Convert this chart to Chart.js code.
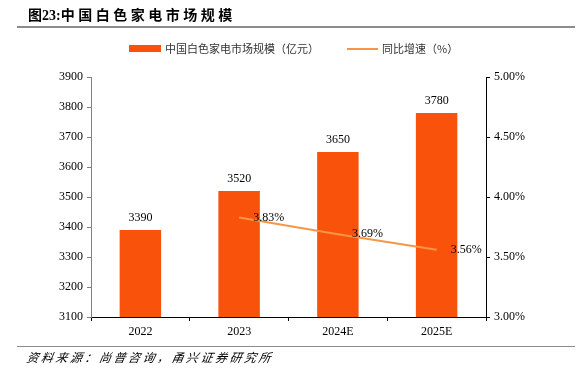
<!DOCTYPE html>
<html>
<head>
<meta charset="utf-8">
<script src="https://cdn.jsdelivr.net/npm/chart.js@4"></script>
<style>
  html, body { margin: 0; padding: 0; background: #fff; }
  #wrap { position: relative; width: 581px; height: 378px; overflow: hidden; }
  #chart { position: absolute; left: 0; top: 0; }
  .title { position: absolute; left: 28px; top: 4px; font: bold 14px "Liberation Serif", "Noto Sans CJK SC"; color: #000; }
  .title span { font-family: "Noto Sans CJK SC"; letter-spacing: 3.5px; }
  .rule { position: absolute; left: 17px; right: 6px; height: 2px; background: #8c8c8c; }
  .legend { position: absolute; top: 40px; font: 11px "Noto Sans CJK SC"; color: #333; }
  .sw { position: absolute; }
  .source { position: absolute; left: 27px; top: 348px; font: italic 12px "Noto Sans CJK SC"; letter-spacing: 2.5px; color: #000; transform: skewX(-10deg); }
</style>
</head>
<body>
<div id="wrap">
  <canvas id="chart" width="581" height="378"></canvas>
  <div class="title">图23:<span>中国白色家电市场规模</span></div>
  <div class="rule" style="top:26px"></div>
  <div class="sw" style="left:129px;top:45px;width:32px;height:7px;background:#f9530b"></div>
  <div class="legend" style="left:165px">中国白色家电市场规模（亿元）</div>
  <div class="sw" style="left:347px;top:48px;width:31px;height:2px;background:#f79646"></div>
  <div class="legend" style="left:382px">同比增速（%）</div>
  <div class="rule" style="top:346px;height:1px"></div>
  <div class="source">资料来源：尚普咨询，甬兴证券研究所</div>
</div>
<script>
const categories = ['2022', '2023', '2024E', '2025E']
const marketSize = [3390, 3520, 3650, 3780]
const growthRate = [null, 3.83, 3.69, 3.56]

const BAR_COLOR = '#f9530b'
const LINE_COLOR = '#f79646'
const FONT = '"Liberation Serif", "Times New Roman", serif'

// value labels above bars and right of line points
const valueLabels = {
  id: 'valueLabels',
  afterDatasetsDraw(chart) {
    const { ctx } = chart
    ctx.save()
    ctx.fillStyle = '#000'
    ctx.font = '12px ' + FONT
    chart.getDatasetMeta(0).data.forEach((bar, i) => {
      ctx.textAlign = 'center'
      ctx.textBaseline = 'bottom'
      ctx.fillText(String(marketSize[i]), bar.x, bar.y - 6)
    })
    chart.getDatasetMeta(1).data.forEach((pt, i) => {
      if (growthRate[i] == null) return
      ctx.textAlign = 'left'
      ctx.textBaseline = 'middle'
      ctx.fillText(growthRate[i].toFixed(2) + '%', pt.x + 14, pt.y)
    })
    ctx.restore()
  }
}

new Chart(document.getElementById('chart'), {
  plugins: [valueLabels],
  data: {
    labels: categories,
    datasets: [
      {
        type: 'bar',
        data: marketSize,
        backgroundColor: BAR_COLOR,
        borderWidth: 0,
        categoryPercentage: 1,
        barPercentage: 0.42,
        yAxisID: 'y',
        order: 2
      },
      {
        type: 'line',
        data: growthRate,
        borderColor: LINE_COLOR,
        borderWidth: 2,
        pointRadius: 0,
        tension: 0,
        yAxisID: 'y1',
        order: 1
      }
    ]
  },
  options: {
    responsive: false,
    animation: false,
    layout: { padding: { top: 77, left: 0, right: 0, bottom: 0 } },
    plugins: {
      legend: { display: false },
      tooltip: { enabled: false }
    },
    scales: {
      x: {
        afterFit: (s) => { s.height = 61 },
        border: { display: true, color: '#000', width: 1 },
        grid: { display: true, drawOnChartArea: false, offset: true, tickLength: 4, color: '#000' },
        ticks: { color: '#000', font: { family: FONT, size: 12 }, padding: 4 }
      },
      y: {
        position: 'left',
        min: 3100,
        max: 3900,
        afterFit: (s) => { s.width = 91 },
        border: { display: true, color: '#808080', width: 1 },
        grid: { display: true, drawOnChartArea: false, tickLength: 4, color: '#808080' },
        ticks: { stepSize: 100, color: '#000', font: { family: FONT, size: 12 }, padding: 4, callback: (v) => String(v) }
      },
      y1: {
        position: 'right',
        min: 3,
        max: 5,
        afterFit: (s) => { s.width = 95 },
        border: { display: true, color: '#000', width: 1 },
        grid: { display: true, drawOnChartArea: false, tickLength: 4, color: '#000' },
        ticks: {
          stepSize: 0.5,
          color: '#000',
          font: { family: FONT, size: 12 },
          padding: 4,
          callback: (v) => v.toFixed(2) + '%'
        }
      }
    }
  }
})
</script>
</body>
</html>
